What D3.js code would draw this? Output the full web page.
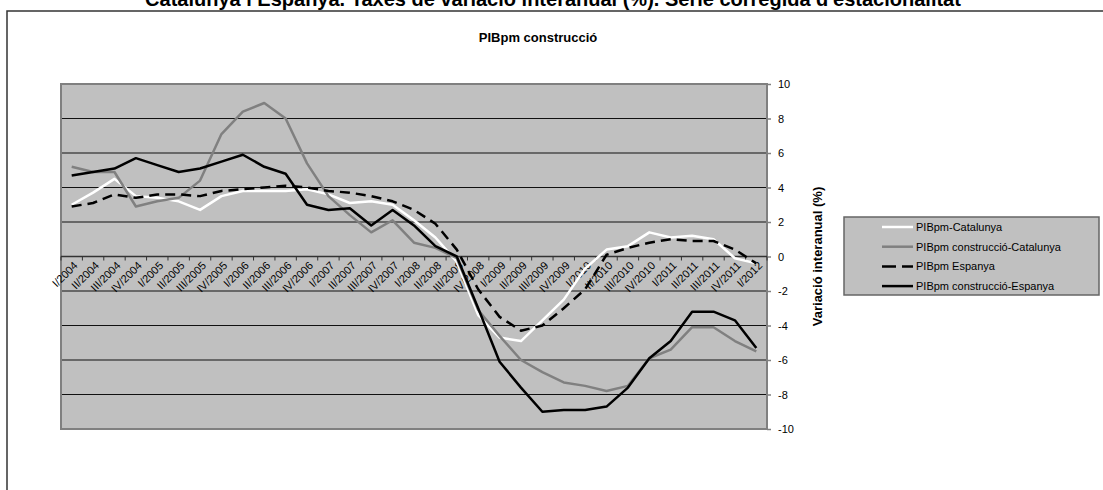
<!DOCTYPE html>
<html>
<head>
<meta charset="utf-8">
<script src="https://cdn.jsdelivr.net/npm/d3@7"></script>
<style>
  body { margin: 0; background: #fff; }
  svg { display: block; font-family: "Liberation Sans", Arial, sans-serif; }
</style>
</head>
<body>
<script>
var quarters = ["I/2004","II/2004","III/2004","IV/2004","I/2005","II/2005","III/2005","IV/2005",
  "I/2006","II/2006","III/2006","IV/2006","I/2007","II/2007","III/2007","IV/2007",
  "I/2008","II/2008","III/2008","IV/2008","I/2009","II/2009","III/2009","IV/2009",
  "I/2010","II/2010","III/2010","IV/2010","I/2011","II/2011","III/2011","IV/2011","I/2012"];

var pibCat = [3.0, 3.7, 4.5, 3.5, 3.4, 3.2, 2.7, 3.5, 3.8, 3.8, 3.8, 3.9, 3.6, 3.1, 3.2, 3.0,
  2.1, 1.1, -0.3, -3.4, -4.7, -4.9, -3.7, -2.5, -0.7, 0.4, 0.6, 1.4, 1.1, 1.2, 1.0, -0.1, -0.4];
var construccioCat = [5.2, 4.9, 4.9, 2.9, 3.2, 3.4, 4.4, 7.1, 8.4, 8.9, 8.0, 5.4, 3.5, 2.4, 1.4, 2.1,
  0.8, 0.5, -0.1, -3.1, -4.6, -6.0, -6.7, -7.3, -7.5, -7.8, -7.5, -5.9, -5.4, -4.1, -4.1, -4.9, -5.5];
var pibEsp = [2.9, 3.1, 3.6, 3.4, 3.6, 3.6, 3.5, 3.8, 3.9, 4.0, 4.1, 4.0, 3.8, 3.7, 3.5, 3.2,
  2.7, 1.9, 0.4, -1.9, -3.5, -4.3, -4.0, -3.0, -1.9, 0.1, 0.5, 0.8, 1.0, 0.9, 0.9, 0.4, -0.4];
var construccioEsp = [4.7, 4.9, 5.1, 5.7, 5.3, 4.9, 5.1, 5.5, 5.9, 5.2, 4.8, 3.0, 2.7, 2.8, 1.8, 2.7,
  1.8, 0.6, 0.0, -3.0, -6.1, -7.6, -9.0, -8.9, -8.9, -8.7, -7.6, -5.9, -4.9, -3.2, -3.2, -3.7, -5.3];

var seriesNames = ["PIBpm-Catalunya", "PIBpm construcció-Catalunya", "PIBpm Espanya", "PIBpm construcció-Espanya"];
var yTicks = [-10, -8, -6, -4, -2, 0, 2, 4, 6, 8, 10];

var series = [
  {name: seriesNames[0], values: pibCat, color: "#ffffff", dash: null},
  {name: seriesNames[1], values: construccioCat, color: "#808080", dash: null},
  {name: seriesNames[2], values: pibEsp, color: "#000000", dash: "10,6"},
  {name: seriesNames[3], values: construccioEsp, color: "#000000", dash: null}
];

var W = 1103, H = 490;
var plot = {left: 61, right: 767, top: 84, bottom: 429};

var svg = d3.select("body").append("svg")
    .attr("width", W)
    .attr("height", H);

// outer chart frame (runs off the page on the right and bottom)
svg.append("rect")
    .attr("x", 7).attr("y", 11)
    .attr("width", W + 20).attr("height", H + 20)
    .attr("fill", "#fff")
    .attr("stroke", "#333").attr("stroke-width", 1.5);

// main title, only its lower part shows above the frame
svg.append("text")
    .attr("x", 553).attr("y", 6)
    .attr("text-anchor", "middle")
    .style("font-size", "20px").style("font-weight", "bold")
    .text("Catalunya i Espanya. Taxes de variació interanual (%). Sèrie corregida d'estacionalitat");

svg.append("text")
    .attr("x", 538).attr("y", 42)
    .attr("text-anchor", "middle")
    .style("font-size", "13px").style("font-weight", "bold")
    .text("PIBpm construcció");

var x = d3.scaleBand()
    .domain(quarters)
    .range([plot.left, plot.right])
    .padding(0);

var y = d3.scaleLinear()
    .domain([-10, 10])
    .range([plot.bottom, plot.top]);

// plot area
svg.append("rect")
    .attr("x", plot.left).attr("y", plot.top)
    .attr("width", plot.right - plot.left).attr("height", plot.bottom - plot.top)
    .attr("fill", "#c0c0c0");

// gridlines
svg.append("g").selectAll("line")
    .data(yTicks.filter(d => d > -10 && d < 10))
  .enter().append("line")
    .attr("x1", plot.left).attr("x2", plot.right)
    .attr("y1", d => y(d)).attr("y2", d => y(d))
    .attr("stroke", "#111").attr("stroke-width", 1);

svg.append("rect")
    .attr("x", plot.left).attr("y", plot.top)
    .attr("width", plot.right - plot.left).attr("height", plot.bottom - plot.top)
    .attr("fill", "none")
    .attr("stroke", "#808080").attr("stroke-width", 2);

// y axis on the right
var yAxis = d3.axisRight(y)
    .tickValues(yTicks)
    .tickFormat(d => String(d))
    .tickSize(4)
    .tickPadding(7);

var gy = svg.append("g")
    .attr("transform", "translate(" + plot.right + ",0)")
    .call(yAxis);
gy.select(".domain").remove();
gy.selectAll("line").attr("stroke", "#808080").attr("stroke-width", 1.5);
gy.selectAll("text").style("font-size", "11px").style("font-family", "Liberation Sans, Arial, sans-serif").attr("fill", "#000");

svg.append("text")
    .attr("transform", "translate(822," + y(0) + ") rotate(-90)")
    .attr("text-anchor", "middle")
    .style("font-size", "13px").style("font-weight", "bold")
    .text("Variació interanual (%)");

// x axis along zero
var y0 = y(0);
svg.append("line")
    .attr("x1", plot.left).attr("x2", plot.right)
    .attr("y1", y0).attr("y2", y0)
    .attr("stroke", "#333").attr("stroke-width", 1.5);

var bounds = quarters.map(d => x(d)).concat([plot.right]);
svg.append("g").selectAll("line")
    .data(bounds)
  .enter().append("line")
    .attr("x1", d => d).attr("x2", d => d)
    .attr("y1", y0).attr("y2", y0 + 4)
    .attr("stroke", "#333").attr("stroke-width", 1);

svg.append("g").selectAll("text")
    .data(quarters)
  .enter().append("text")
    .attr("transform", d => "translate(" + (x(d) + x.bandwidth() / 2 + 4) + "," + (y0 + 7) + ") rotate(-45)")
    .attr("text-anchor", "end")
    .attr("dy", "0.35em")
    .style("font-size", "11px")
    .text(d => d);

// series lines
var line = d3.line()
    .x((d, i) => x(quarters[i]) + x.bandwidth() / 2)
    .y(d => y(d));

svg.append("g").selectAll("path")
    .data(series)
  .enter().append("path")
    .attr("d", d => line(d.values))
    .attr("fill", "none")
    .attr("stroke", d => d.color)
    .attr("stroke-width", 2.5)
    .attr("stroke-dasharray", d => d.dash)
    .attr("stroke-linejoin", "round");

// legend
var legendBox = {x: 844, y: 217, w: 255, h: 78};
svg.append("rect")
    .attr("x", legendBox.x).attr("y", legendBox.y)
    .attr("width", legendBox.w).attr("height", legendBox.h)
    .attr("fill", "#c0c0c0")
    .attr("stroke", "#666").attr("stroke-width", 1.5);

var legend = svg.selectAll(".legend")
    .data(series)
  .enter().append("g")
    .attr("class", "legend")
    .attr("transform", (d, i) => "translate(0," + (legendBox.y + 10 + i * 19.7) + ")");

legend.append("line")
    .attr("x1", 882).attr("x2", 913)
    .attr("stroke", d => d.color)
    .attr("stroke-width", 2.5)
    .attr("stroke-dasharray", d => d.dash ? "14,6" : null);

legend.append("text")
    .attr("x", 916)
    .attr("dy", "0.35em")
    .style("font-size", "11px")
    .text(d => d.name);
</script>
</body>
</html>
